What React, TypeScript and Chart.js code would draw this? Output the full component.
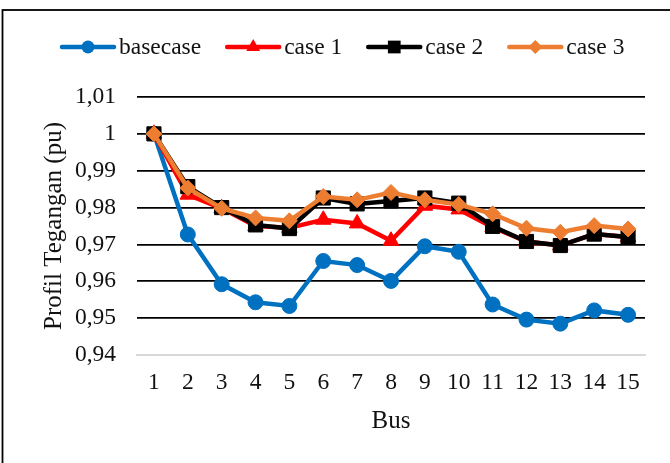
import React, { useEffect, useRef } from 'react';
import { Chart, registerables } from 'chart.js';

Chart.register(...registerables);

const buses = ['1', '2', '3', '4', '5', '6', '7', '8', '9', '10', '11', '12', '13', '14', '15'];
const basecase = [1, 0.9727, 0.9592, 0.9543, 0.9533, 0.9655, 0.9644, 0.9601, 0.9695, 0.968, 0.9537, 0.9496, 0.9485, 0.9521, 0.9509];
const case1 = [1, 0.9835, 0.9798, 0.975, 0.9745, 0.9767, 0.9757, 0.971, 0.9805, 0.9795, 0.9747, 0.9708, 0.9697, 0.9728, 0.972];
const case2 = [1, 0.9857, 0.98, 0.9753, 0.9743, 0.9826, 0.981, 0.9818, 0.9826, 0.9812, 0.9749, 0.9708, 0.9697, 0.9728, 0.972];
const case3 = [1, 0.9853, 0.9798, 0.9772, 0.9764, 0.983, 0.9821, 0.9841, 0.9821, 0.9808, 0.9783, 0.9744, 0.9733, 0.9751, 0.9742];
const yTickLabels = ['0,94', '0,95', '0,96', '0,97', '0,98', '0,99', '1', '1,01'];
const seriesNames = ['basecase', 'case 1', 'case 2', 'case 3'];
const seriesData = [basecase, case1, case2, case3];
const seriesColors = ['#0070C0', '#FF0000', '#000000', '#ED7D31'];
const seriesMarkers = ['circle', 'triangle', 'rect', 'rectRot'];
const seriesRadius = [7.5, 9, 10, 8];

const FONT = "'Liberation Serif', 'Times New Roman', serif";

function drawMarker(ctx: CanvasRenderingContext2D, style: string, x: number, y: number, r: number) {
  ctx.beginPath();
  if (style === 'circle') {
    ctx.arc(x, y, r, 0, Math.PI * 2);
  } else if (style === 'triangle') {
    ctx.moveTo(x, y - r);
    ctx.lineTo(x + r * 0.866, y + r / 2);
    ctx.lineTo(x - r * 0.866, y + r / 2);
    ctx.closePath();
  } else if (style === 'rect') {
    const s = Math.SQRT1_2 * r;
    ctx.rect(x - s, y - s, 2 * s, 2 * s);
  } else {
    ctx.moveTo(x - r, y);
    ctx.lineTo(x, y - r);
    ctx.lineTo(x + r, y);
    ctx.lineTo(x, y + r);
    ctx.closePath();
  }
  ctx.fill();
}

const framePlugin = {
  id: 'frameAndLegend',
  afterDraw(chart: any) {
    const ctx: CanvasRenderingContext2D = chart.ctx;
    ctx.save();
    // outer frame
    ctx.strokeStyle = '#000';
    ctx.lineWidth = 1.8;
    ctx.strokeRect(2.5, 10, 720, 520);
    // legend
    ctx.font = `23.5px ${FONT}`;
    ctx.textBaseline = 'middle';
    ctx.textAlign = 'left';
    let x = 60;
    const y = 47;
    for (let i = 0; i < seriesNames.length; i++) {
      ctx.strokeStyle = seriesColors[i];
      ctx.fillStyle = seriesColors[i];
      ctx.lineWidth = 4.5;
      ctx.lineCap = 'round';
      ctx.beginPath();
      ctx.moveTo(x + 2, y);
      ctx.lineTo(x + 54, y);
      ctx.stroke();
      drawMarker(ctx, seriesMarkers[i], x + 28, y, seriesRadius[i] - 1);
      ctx.fillStyle = '#111';
      ctx.fillText(seriesNames[i], x + 59, y + 1);
      const w = ctx.measureText(seriesNames[i]).width;
      x = x + 59 + w + 24;
    }
    ctx.restore();
  },
};

export default function App() {
  const ref = useRef<HTMLCanvasElement | null>(null);
  useEffect(() => {
    if (!ref.current) return;
    const order = [4, 3, 2, 1];
    const chart = new Chart(ref.current, {
      type: 'line',
      data: {
        labels: buses,
        datasets: seriesNames.map((name, i) => ({
          label: name,
          data: seriesData[i],
          borderColor: seriesColors[i],
          backgroundColor: seriesColors[i],
          borderWidth: 4.5,
          pointStyle: seriesMarkers[i] as any,
          pointRadius: seriesRadius[i],
          pointBorderWidth: 1,
          pointBackgroundColor: seriesColors[i],
          pointBorderColor: seriesColors[i],
          tension: 0,
          order: order[i],
        })),
      },
      options: {
        animation: false,
        responsive: false,
        maintainAspectRatio: false,
        layout: { padding: { left: 20, right: 25, top: 97, bottom: 0 } },
        plugins: {
          legend: { display: false },
          tooltip: { enabled: false },
          title: { display: false },
        },
        scales: {
          x: {
            type: 'category',
            offset: true,
            grid: { display: false, drawTicks: false },
            border: { display: true, color: '#d9d9d9', width: 2 },
            ticks: {
              autoSkip: false,
              maxRotation: 0,
              padding: 14,
              color: '#111',
              font: { family: FONT, size: 23.5 },
            },
            title: {
              display: true,
              text: 'Bus',
              color: '#111',
              font: { family: FONT, size: 25 },
              padding: { top: 0, bottom: 27 },
            },
            afterFit: (scale: any) => {
              scale.height = 108;
            },
          },
          y: {
            min: 0.94,
            max: 1.01,
            ticks: {
              stepSize: 0.01,
              padding: 21,
              color: '#111',
              font: { family: FONT, size: 23.5 },
              callback: (_v: any, idx: number) => yTickLabels[idx],
            },
            grid: {
              drawTicks: false,
              lineWidth: 1.7,
              color: (c: any) => (c.index === 0 ? 'rgba(0,0,0,0)' : '#000'),
            },
            border: { display: false },
            title: {
              display: true,
              text: 'Profil Tegangan (pu)',
              color: '#111',
              font: { family: FONT, size: 25 },
              padding: { top: 19, bottom: 0 },
            },
            afterFit: (scale: any) => {
              scale.width = 117;
            },
          },
        },
      },
      plugins: [framePlugin],
    });
    return () => chart.destroy();
  }, []);
  return (
    <div style={{ position: 'absolute', left: 0, top: 0, width: 670, height: 463, background: '#fff' }}>
      <canvas ref={ref} width={670} height={463} />
    </div>
  );
}
